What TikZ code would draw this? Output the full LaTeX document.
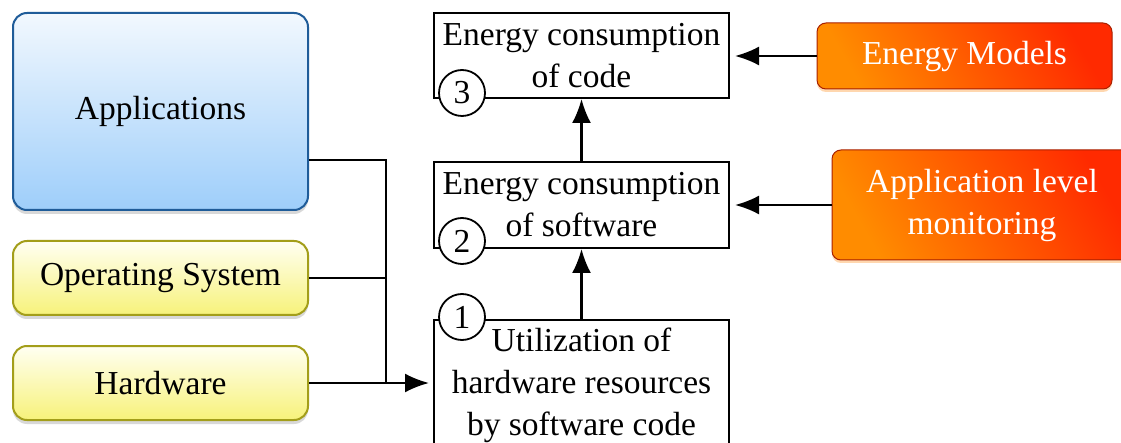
\documentclass[tikz,border=0pt]{standalone}
\usepackage{fontspec}
\setmainfont{Liberation Serif}
\usetikzlibrary{arrows.meta,shadows,calc}
\definecolor{bluetop}{HTML}{F2F8FE}
\definecolor{bluebot}{HTML}{9ECEFA}
\definecolor{blueborder}{HTML}{1F5C99}
\definecolor{yeltop}{HTML}{FFFFF2}
\definecolor{yelbot}{HTML}{F7F27A}
\definecolor{yelborder}{HTML}{A39E1A}
\definecolor{orA}{HTML}{FF8C00}
\definecolor{orB}{HTML}{FF2A00}
\definecolor{orborder}{HTML}{A82000}
\definecolor{orglow}{HTML}{FFB060}
\tikzset{
  txt/.style={font=\fontsize{33.5}{42}\selectfont, align=center, inner sep=0pt},
  bluebox/.style={txt, draw=blueborder, line width=2pt, rounded corners=14pt,
    top color=bluetop, bottom color=bluebot,
    drop shadow={shadow xshift=0pt, shadow yshift=-4pt, opacity=0.3}},
  yelbox/.style={txt, draw=yelborder, line width=2pt, rounded corners=14pt,
    top color=yeltop, bottom color=yelbot,
    drop shadow={shadow xshift=0pt, shadow yshift=-4pt, opacity=0.3}},
  orbox/.style={txt, text=white, draw=orborder, line width=1pt, rounded corners=9pt,
    shading=axis, left color=orB, right color=orA, shading angle=-60,
    drop shadow={shadow xshift=0pt, shadow yshift=-3pt, opacity=0.5, fill=orglow}},
  plainbox/.style={txt, draw=black, line width=2pt, fill=white},
  numcirc/.style={circle, draw=black, line width=1.8pt, fill=white, inner sep=0pt,
    minimum size=46pt, font=\fontsize{33.5}{33.5}\selectfont},
  conn/.style={line width=2.2pt, draw=black},
  arr/.style={conn, -{Latex[length=24pt,width=19pt]}},
}
\begin{document}
\begin{tikzpicture}[x=1pt,y=-1pt]
\useasboundingbox (0,0) rectangle (1121,443);
\clip (0,0) rectangle (1121,443);
\fill[white] (0,0) rectangle (1121,443);
% left boxes
\node[bluebox, minimum width=295pt, minimum height=197pt] (apps) at (160.5,111.5) {Applications};
\node[yelbox, minimum width=295pt, minimum height=74pt] (os) at (160.5,278) {Operating System};
\node[yelbox, minimum width=295pt, minimum height=74pt] (hw) at (160.5,383) {Hardware};
% center boxes
\node[plainbox, minimum width=295pt, minimum height=85pt] (b3) at (581.5,55.5) {Energy consumption\\of code};
\node[plainbox, minimum width=295pt, minimum height=86pt] (b2) at (581.5,205) {Energy consumption\\of software};
\node[plainbox, minimum width=295pt, minimum height=130pt] (b1) at (581.5,385) {Utilization of\\hardware resources\\by software code};
% right boxes
\node[orbox, minimum width=295pt, minimum height=66pt] (em) at (964.5,56) {Energy Models};
\node[orbox, minimum width=300pt, minimum height=110pt] (alm) at (982,205) {Application level\\monitoring};
% number circles
\node[numcirc] (c3) at (462,93) {3};
\node[numcirc] (c2) at (462,241) {2};
\node[numcirc] (c1) at (462,317) {1};
% connectors
\coordinate (j) at (386,384);
\draw[conn] ($(apps.east)+(0,48.5)$) -| (j);
\draw[conn] (os.east) -- (os.east -| j);
\draw[arr, shorten >=4pt] (hw.east) -- (hw.east -| b1.west);
\draw[arr] (b1.north) -- (b2.south);
\draw[arr] (b2.north) -- (b3.south);
\draw[arr, shorten >=5pt] (em.west) -- (em.west -| b3.east);
\draw[arr, shorten >=5pt] (alm.west) -- (alm.west -| b2.east);
\end{tikzpicture}
\end{document}
